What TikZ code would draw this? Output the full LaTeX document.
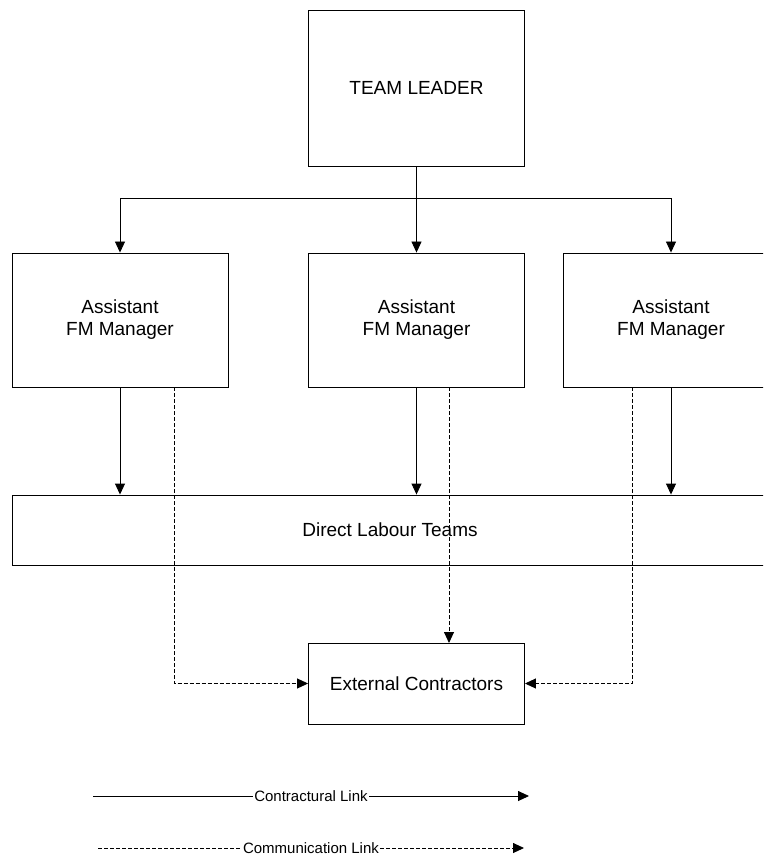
\documentclass[tikz,border=0pt]{standalone}
\usepackage{fontspec}
\setmainfont{Liberation Sans}
\usetikzlibrary{positioning, arrows.meta}
\tikzset{>={Triangle[length=11pt, width=10pt]}, % filled arrow heads
box/.style={draw, line width=0.9pt, minimum width=216pt, align=center, font=\fontsize{19}{22}\selectfont}, % the boxes of the chart
commlink/.style={line width=0.9pt, dash pattern=on 4pt off 2pt, ->}, % communication link
contlink/.style={line width=0.9pt, ->}, % contractual link
legend/.style={fill=white, inner sep=1pt, font=\fontsize{15}{17}\selectfont},
}

\begin{document}
\begin{tikzpicture}[x=1pt, y=-1pt]
    \useasboundingbox (0,0) rectangle (763,858);
    \clip (0,0) rectangle (763,858);
    \node[box, minimum height=156pt] (lead) at (416.5,88) {TEAM LEADER};
    \node[box, minimum height=134pt] (fm1) at (120,320) {Assistant\\FM Manager};
    \node[box, minimum height=134pt] (fm2) at (416.5,320) {Assistant\\FM Manager};
    \node[box, minimum height=134pt] (fm3) at (671,320) {Assistant\\FM Manager};
    \node[box, minimum width=790pt, minimum height=70pt] (dlt) at (407,530) {};
    \node[font=\fontsize{19}{22}\selectfont] (dlttext) at (390,530) {Direct Labour Teams};
    \node[box, minimum height=81pt] (ext) at (416.5,683.5) {External Contractors};
    % team leader to the three managers
    \coordinate (split) at (416.5,198);
    \draw[contlink] (lead.south) -- (fm2.north);
    \draw[contlink] (split) -| (fm1.north);
    \draw[contlink] (split) -| (fm3.north);
    % managers to direct labour
    \draw[contlink] (fm1.south) -- (fm1.south |- dlt.north);
    \draw[contlink] (fm2.south) -- (fm2.south |- dlt.north);
    \draw[contlink] (fm3.south) -- (fm3.south |- dlt.north);
    % managers to contractors
    \draw[commlink] (174,387) |- (ext.west);
    \draw[commlink] (449,387) -- (449,643);
    \draw[commlink] (632,387) |- (ext.east);
    % legend
    \coordinate (k1) at (93,796);
    \coordinate (k2) at (529,796);
    \coordinate (k3) at (98,848);
    \coordinate (k4) at (524,848);
    \draw[contlink] (k1) -- node[legend]{Contractural Link} (k2);
    \draw[commlink] (k3) -- node[legend]{Communication Link} (k4);
\end{tikzpicture}
\end{document}
